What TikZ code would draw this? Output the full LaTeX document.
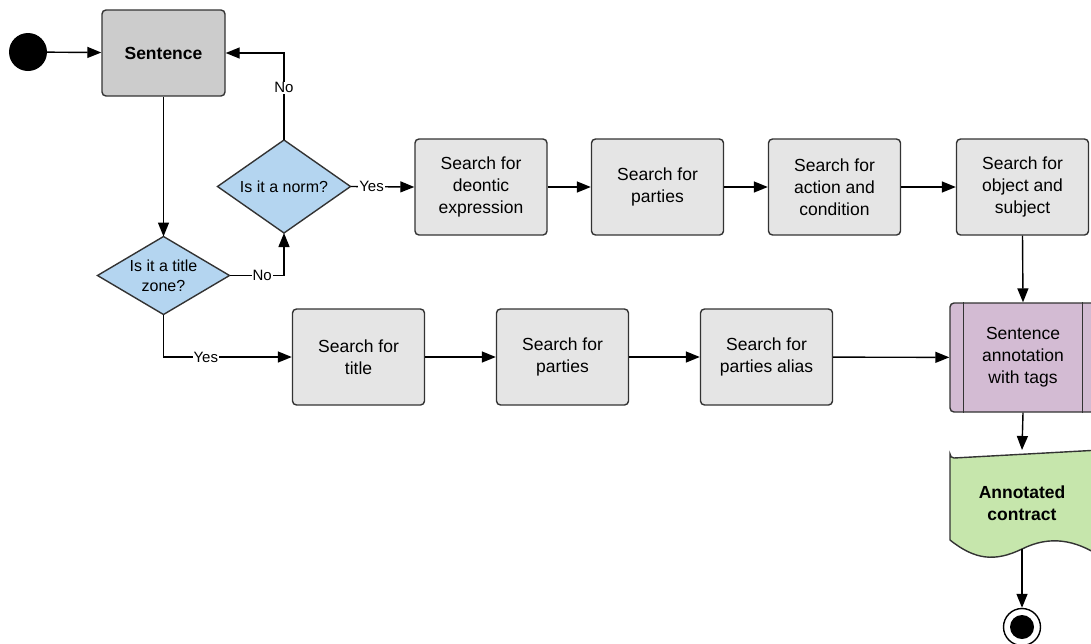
\documentclass[tikz,border=0pt]{standalone}
\usepackage{fontspec}
\setmainfont{Liberation Sans}
\usetikzlibrary{shapes.geometric,arrows.meta}
\definecolor{sentgray}{HTML}{CCCCCC}
\definecolor{boxgray}{HTML}{E5E5E5}
\definecolor{diablue}{HTML}{B4D5F0}
\definecolor{subpurp}{HTML}{D3BBD3}
\definecolor{docgreen}{HTML}{C6E6AC}
\definecolor{edge}{HTML}{333333}
\tikzset{
  base/.style={draw=edge, line width=1.4pt, align=center, text=black},
  stepbox/.style={base, rectangle, rounded corners=4pt, fill=boxgray,
    minimum width=132pt, minimum height=96pt, inner sep=0pt,
    font=\fontsize{17.5}{22}\selectfont},
  decision/.style={base, diamond, fill=diablue, inner sep=0pt, outer sep=0pt,
    font=\fontsize{16}{20}\selectfont},
  lbl/.style={fill=white, inner sep=1pt, font=\fontsize{15}{18}\selectfont},
  flow/.style={line width=1.4pt, draw=black, -{Triangle[length=14pt,width=11pt]}},
}
\begin{document}
\begin{tikzpicture}[x=1pt,y=-1pt]
\useasboundingbox (0,0) rectangle (1091,643);
\clip (0,0) rectangle (1091,643);
% start
\node[circle, fill=black, minimum size=38pt, inner sep=0pt] (start) at (28,52) {};
\node[stepbox, fill=sentgray, minimum width=123pt, minimum height=86pt,
  font=\fontsize{17.5}{22}\selectfont\bfseries] (sent) at (163.5,53) {Sentence};
% decisions
\node[decision, shape aspect=1.43, minimum width=133pt, minimum height=93pt] (norm) at (284,186.5) {Is it a norm?};
\node[decision, shape aspect=1.68, minimum width=132pt, minimum height=78pt] (title) at (163.5,275.5) {Is it a title\\zone?};
% top row
\node[stepbox] (t1) at (481,187) {Search for\\deontic\\expression};
\node[stepbox] (t2) at (657.5,187) {Search for\\parties};
\node[stepbox] (t3) at (834.5,187) {Search for\\action and\\condition};
\node[stepbox] (t4) at (1022.5,187) {Search for\\object and\\subject};
% bottom row
\node[stepbox] (b1) at (358.5,357) {Search for\\title};
\node[stepbox] (b2) at (562.5,357) {Search for\\parties};
\node[stepbox] (b3) at (766.5,357) {Search for\\parties alias};
% subprocess
\node[stepbox, fill=subpurp, minimum width=146pt, minimum height=109pt] (sub) at (1023,357.5) {Sentence\\annotation\\with tags};
\draw[edge, line width=1.4pt] ([xshift=14pt]sub.north west) -- ([xshift=14pt]sub.south west);
\draw[edge, line width=1.4pt] ([xshift=-14pt]sub.north east) -- ([xshift=-14pt]sub.south east);
% document
\draw[draw=edge, line width=1.4pt, fill=docgreen]
  (950,454) arc[start angle=180, end angle=90, radius=4]
  -- (1100,450) -- (1100,556)
  .. controls (1075,540) and (1050,535) .. (1022,549)
  .. controls (995,562) and (975,560) .. (950,540) -- cycle;
\node[align=center, font=\fontsize{17.5}{22}\selectfont\bfseries] (doc) at (1022,503) {Annotated\\contract};
\coordinate (doctop) at (1022,450);
\coordinate (docbot) at (1022,549);
% end
\node[circle, draw=black, line width=1.4pt, fill=white, minimum size=37pt, inner sep=0pt] (stop) at (1022,627) {};
\node[circle, fill=black, minimum size=24pt, inner sep=0pt] at (stop.center) {};
% connectors
\draw[flow] (start) -- (sent);
\draw[flow] (sent.south) -- (title.north);
\draw[flow] (title.east) -- node[lbl, pos=0.6] {No} (title.east -| norm.south) -- (norm.south);
\draw[flow] (norm.north) -- node[lbl, pos=0.6] {No} (norm.north |- sent.east) -- (sent.east);
\draw[flow] (norm.east) -- node[lbl, pos=0.33] {Yes} (t1.west);
\draw[flow] (t1) -- (t2);
\draw[flow] (t2) -- (t3);
\draw[flow] (t3) -- (t4);
\draw[flow] (t4.south) -- (sub.north);
\draw[flow] (title.south) -- (title.south |- b1.west) -- node[lbl, pos=0.33] {Yes} (b1.west);
\draw[flow] (b1) -- (b2);
\draw[flow] (b2) -- (b3);
\draw[flow] (b3) -- (sub);
\draw[flow] (sub.south) -- (doctop);
\draw[flow] (docbot) -- (stop.north);
\end{tikzpicture}
\end{document}
